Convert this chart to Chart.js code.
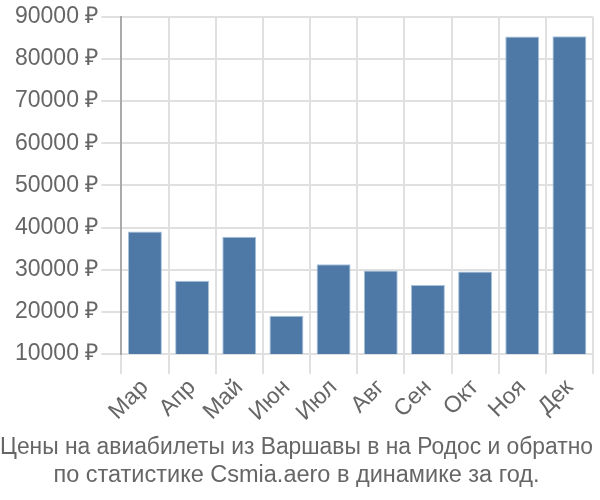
<!DOCTYPE html>
<html>
<head>
<meta charset="utf-8">
<script src="https://cdn.jsdelivr.net/npm/chart.js@4"></script>
<style>
  html, body { margin: 0; padding: 0; background: #fff; }
  #wrap { width: 600px; height: 500px; }
</style>
</head>
<body>
<div id="wrap"><canvas id="chart" width="600" height="500"></canvas></div>
<script>
const months = ['Мар', 'Апр', 'Май', 'Июн', 'Июл', 'Авг', 'Сен', 'Окт', 'Ноя', 'Дек'];
const prices = [39100, 27400, 37800, 19100, 31300, 29800, 26400, 29600, 85300, 85400];
const titleLines = ['Цены на авиабилеты из Варшавы в на Родос и обратно', 'по статистике Csmia.aero в динамике за год.'];

const fontFamily = 'Liberation Sans, Arial, sans-serif';

const ctx = document.getElementById('chart').getContext('2d');
const chart = new Chart(ctx, {
    type: 'bar',
    data: {
        labels: months,
        datasets: [{
            data: prices,
            backgroundColor: '#4e79a7',
            borderColor: '#a9c2dc',
            borderWidth: 1,
            categoryPercentage: 1.0,
            barPercentage: 0.72
        }]
    },
    options: {
        responsive: false,
        animation: false,
        devicePixelRatio: 1,
        layout: { padding: { top: 1, right: 7, left: 0, bottom: 0 } },
        plugins: {
            legend: { display: false },
            tooltip: { enabled: false },
            title: {
                display: true,
                position: 'bottom',
                text: titleLines,
                color: '#666',
                font: { family: fontFamily, size: 23.5, weight: 'normal', lineHeight: 1.2 },
                padding: { top: 7, bottom: 10 }
            }
        },
        scales: {
            x: {
                grid: { color: '#e0e0e0', lineWidth: 2, tickLength: 20, offset: true },
                border: { color: '#e0e0e0', width: 2 },
                ticks: {
                    color: '#666',
                    font: { family: fontFamily, size: 23 },
                    maxRotation: 45,
                    minRotation: 45,
                    padding: 0
                }
            },
            y: {
                min: 10000,
                max: 90000,
                afterFit: function(scale) {
                    scale.width += 12;
                },
                grid: { color: '#e0e0e0', lineWidth: 2, tickLength: 20 },
                border: { color: '#aaa', width: 2 },
                ticks: {
                    stepSize: 10000,
                    color: '#666',
                    padding: 3,
                    font: { family: fontFamily, size: 23 },
                    callback: function(value) {
                        return value + ' ₽';
                    }
                }
            }
        }
    }
});
</script>
</body>
</html>
